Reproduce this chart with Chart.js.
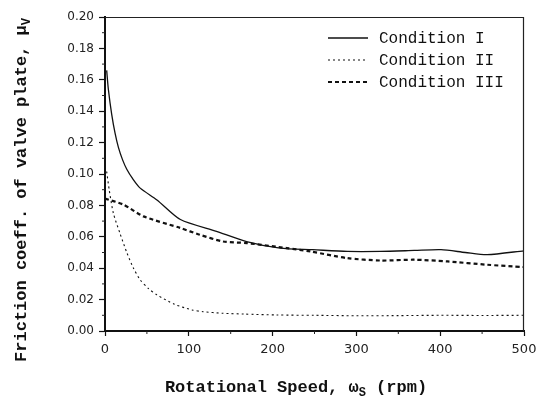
<!DOCTYPE html>
<html><head><meta charset="utf-8">
<script src="https://cdn.jsdelivr.net/npm/chart.js@4/dist/chart.umd.min.js"></script>
<style>html,body{margin:0;padding:0;background:#fff}#wrap{width:546px;height:400px}</style>
</head><body><div id="wrap"><canvas id="c" width="546" height="400"></canvas></div>
<script>
const seriesNames = ["Condition I", "Condition II", "Condition III"];
const speedI = [2, 4, 8, 12, 16, 21, 26, 33, 42, 62, 90, 133, 169, 209, 248, 289, 329, 369, 401, 430, 456, 500];
const fricI = [0.166, 0.154, 0.138, 0.126, 0.117, 0.109, 0.103, 0.097, 0.091, 0.0835, 0.071, 0.0635, 0.057, 0.0528, 0.0518, 0.0507, 0.0507, 0.0513, 0.0518, 0.050, 0.0486, 0.0511];
const speedII = [2, 5, 10, 18, 26, 34, 42, 52, 62, 83, 104, 117, 140, 166, 205, 250, 300, 350, 400, 450, 500];
const fricII = [0.1016, 0.090, 0.075, 0.062, 0.050, 0.040, 0.0326, 0.027, 0.023, 0.0170, 0.0134, 0.0123, 0.0113, 0.0108, 0.0102, 0.0100, 0.0097, 0.0098, 0.0100, 0.0099, 0.0100];
const speedIII = [0, 22, 46, 90, 113, 141, 169, 217, 245, 289, 329, 369, 409, 456, 500];
const fricIII = [0.0843, 0.0805, 0.073, 0.0656, 0.0613, 0.057, 0.056, 0.0528, 0.0507, 0.0464, 0.0449, 0.0454, 0.0443, 0.0422, 0.0407];
const xTicks = [0, 100, 200, 300, 400, 500];
const yTicks = [0.00, 0.02, 0.04, 0.06, 0.08, 0.10, 0.12, 0.14, 0.16, 0.18, 0.20];

const pts = (xs, ys) => xs.map((x, i) => ({x: x, y: ys[i]}));
const styles = [
  {borderWidth: 1.3, borderDash: []},
  {borderWidth: 1.1, borderDash: [2, 3]},
  {borderWidth: 2.2, borderDash: [4, 3]}
];
const dataSets = [pts(speedI, fricI), pts(speedII, fricII), pts(speedIII, fricIII)];

function drawSubText(ctx, parts, cx, cy) {
  let total = 0;
  const fMain = 'bold 17px "Liberation Mono"', fSub = 'bold 12px "Liberation Mono"';
  parts.forEach(p => { ctx.font = p[1] ? fSub : fMain; total += ctx.measureText(p[0]).width; });
  let x = cx - total / 2;
  ctx.textBaseline = 'alphabetic';
  ctx.textAlign = 'left';
  parts.forEach(p => {
    ctx.font = p[1] ? fSub : fMain;
    ctx.fillText(p[0], x, cy + (p[1] ? 4 : 0));
    x += ctx.measureText(p[0]).width;
  });
}

const extras = {
  id: 'extras',
  afterDraw(chart) {
    const ctx = chart.ctx, a = chart.chartArea;
    const xs = chart.scales.x, ys = chart.scales.y;
    ctx.save();
    ctx.strokeStyle = '#222';
    ctx.lineWidth = 1.2;
    ctx.beginPath();
    ctx.moveTo(a.left, a.top + 0.5); ctx.lineTo(a.right, a.top + 0.5);
    ctx.moveTo(a.right - 0.5, a.top); ctx.lineTo(a.right - 0.5, a.bottom);
    ctx.stroke();
    ctx.lineWidth = 1;
    ctx.beginPath();
    for (let v = 50; v < 500; v += 100) {
      const px = xs.getPixelForValue(v);
      ctx.moveTo(px, a.bottom); ctx.lineTo(px, a.bottom + 3);
    }
    for (let k = 1; k < 20; k += 2) {
      const py = ys.getPixelForValue(k / 100);
      ctx.moveTo(a.left, py); ctx.lineTo(a.left - 3, py);
    }
    ctx.stroke();
    ctx.fillStyle = '#111';
    ctx.font = '16px "Liberation Mono"';
    ctx.textBaseline = 'middle';
    ctx.textAlign = 'left';
    const rows = [38, 60, 82];
    seriesNames.forEach((n, i) => {
      ctx.strokeStyle = '#111';
      ctx.lineWidth = styles[i].borderWidth;
      ctx.setLineDash(styles[i].borderDash);
      ctx.beginPath();
      ctx.moveTo(328, rows[i]); ctx.lineTo(368, rows[i]);
      ctx.stroke();
      ctx.setLineDash([]);
      ctx.fillText(n, 379, rows[i] + 1);
    });
    ctx.fillStyle = '#111';
    drawSubText(ctx, [["Rotational Speed, \u03C9", false], ["S", true], [" (rpm)", false]], 296, 392);
    ctx.translate(26, 190);
    ctx.rotate(-Math.PI / 2);
    drawSubText(ctx, [["Friction coeff. of valve plate, \u03BC", false], ["V", true]], 0, 0);
    ctx.restore();
  }
};

new Chart(document.getElementById('c'), {
  type: 'scatter',
  data: {
    datasets: dataSets.map((d, i) => ({
      label: seriesNames[i],
      data: d,
      showLine: true,
      borderColor: '#111',
      backgroundColor: '#111',
      borderWidth: styles[i].borderWidth,
      borderDash: styles[i].borderDash,
      pointRadius: 0,
      tension: 0.25,
      fill: false
    }))
  },
  options: {
    responsive: false,
    animation: false,
    layout: {padding: {top: 17, right: 22, left: 0, bottom: 0}},
    plugins: {legend: {display: false}, tooltip: {enabled: false}},
    scales: {
      x: {
        type: 'linear', min: 0, max: 500,
        afterBuildTicks: s => { s.ticks = xTicks.map(v => ({value: v})); },
        afterFit: s => { s.height = 69; },
        border: {display: true, color: '#111', width: 2},
        grid: {drawOnChartArea: false, tickLength: 5, color: '#111', tickWidth: 1.2},
        ticks: {color: '#222', font: {family: '"DejaVu Sans"', size: 13}, padding: 6, maxRotation: 0,
          callback: v => String(v)}
      },
      y: {
        type: 'linear', min: 0, max: 0.2,
        afterBuildTicks: s => { s.ticks = yTicks.map(v => ({value: v})); },
        afterFit: s => { s.width = 105; },
        border: {display: true, color: '#111', width: 2},
        grid: {drawOnChartArea: false, tickLength: 6, color: '#111', tickWidth: 1.2},
        ticks: {color: '#222', font: {family: '"DejaVu Sans"', size: 12}, padding: 5,
          callback: v => Number(v).toFixed(2)}
      }
    }
  },
  plugins: [extras]
});
</script></body></html>
